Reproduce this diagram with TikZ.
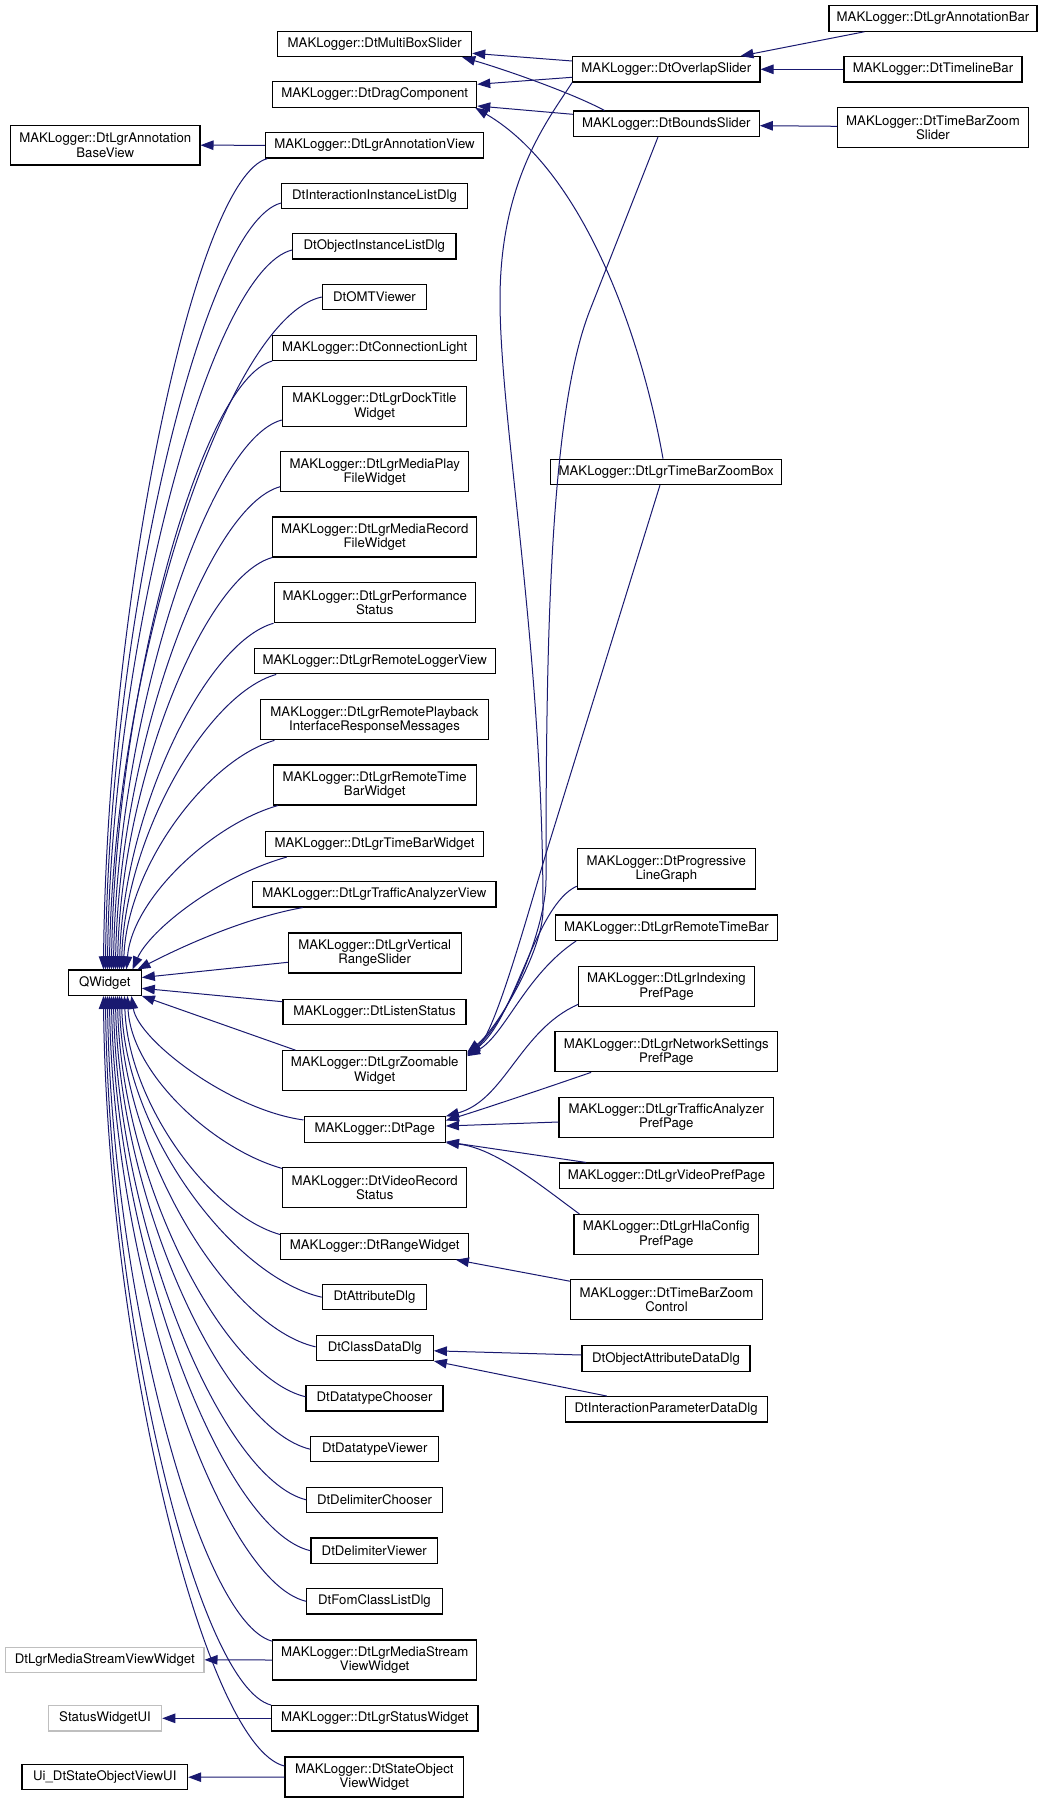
\documentclass[tikz,border=0pt]{standalone}
\usepackage{fontspec}
\setmainfont{TeX Gyre Heros}
\usetikzlibrary{arrows.meta,calc,backgrounds}
\definecolor{navy}{HTML}{191970}
\definecolor{boxgrey}{HTML}{BFBFBF}
\begin{document}
\begin{tikzpicture}[x=1pt,y=-1pt,
  box/.style={draw=black, line width=1.1pt, fill=white, inner sep=0pt, align=center,
    font=\fontsize{13.2}{14.3}\selectfont, minimum height=25.4pt},
  box2/.style={box, minimum height=40pt},
  gbox/.style={box, draw=boxgrey},
  inh/.style={draw=navy, line width=1pt, {Triangle[length=13pt,width=9.5pt]}-}]
\begin{pgfonlayer}{background}
\fill[white] (0,0) rectangle (1053,1803);
\end{pgfonlayer}
\useasboundingbox (0,0) rectangle (1053,1803);

% middle column
\node[box, minimum width=194pt] (mbs) at (374.7,44) {MAKLogger::DtMultiBoxSlider};
\node[box, minimum width=204pt] (drag) at (374.7,94.5) {MAKLogger::DtDragComponent};
\node[box2, minimum width=189.3pt, minimum height=39.7pt] (abv) at (105.3,145.2) {MAKLogger::DtLgrAnnotation\\BaseView};
\node[box, minimum width=218.4pt] (av) at (374.5,145.3) {MAKLogger::DtLgrAnnotationView};
\node[box, minimum width=185.6pt] (iild) at (374.5,195.8) {DtInteractionInstanceListDlg};
\node[box, minimum width=163.3pt] (oild) at (374.3,246.3) {DtObjectInstanceListDlg};
\node[box, minimum width=104.4pt] (omt) at (374.5,297) {DtOMTViewer};
\node[box, minimum width=204pt] (conn) at (374.7,347.8) {MAKLogger::DtConnectionLight};
\node[box2, minimum width=184.4pt] (dock) at (374.5,406.7) {MAKLogger::DtLgrDockTitle\\Widget};
\node[box2, minimum width=188pt] (mplay) at (374.7,471.8) {MAKLogger::DtLgrMediaPlay\\FileWidget};
\node[box2, minimum width=204pt] (mrec) at (374.7,537) {MAKLogger::DtLgrMediaRecord\\FileWidget};
\node[box2, minimum width=201.3pt] (perf) at (374.7,602.7) {MAKLogger::DtLgrPerformance\\Status};
\node[box, minimum width=241.3pt] (rlog) at (374.7,661.2) {MAKLogger::DtLgrRemoteLoggerView};
\node[box2, minimum width=227.6pt] (rplay) at (374.5,719.8) {MAKLogger::DtLgrRemotePlayback\\InterfaceResponseMessages};
\node[box2, minimum width=202.7pt] (rtbw) at (374.7,785) {MAKLogger::DtLgrRemoteTime\\BarWidget};
\node[box, minimum width=217.6pt] (tbw) at (374.5,843.8) {MAKLogger::DtLgrTimeBarWidget};
\node[box, minimum width=243.3pt] (tav) at (374.3,894.3) {MAKLogger::DtLgrTrafficAnalyzerView};
\node[box2, minimum width=172.7pt] (vrs) at (374.7,953) {MAKLogger::DtLgrVertical\\RangeSlider};
\node[box, minimum width=73pt] (qw) at (104.8,982.7) {QWidget};
\node[box, minimum width=183pt] (ls) at (374.5,1011.8) {MAKLogger::DtListenStatus};
\node[box2, minimum width=184pt] (zw) at (374.7,1070.7) {MAKLogger::DtLgrZoomable\\Widget};
\node[box, minimum width=141.3pt] (page) at (374.7,1129.5) {MAKLogger::DtPage};
\node[box2, minimum width=184pt] (vrec) at (374.7,1187.7) {MAKLogger::DtVideoRecord\\Status};
\node[box, minimum width=188pt] (rw) at (374.7,1246.5) {MAKLogger::DtRangeWidget};
\node[box, minimum width=104.4pt] (attr) at (374.5,1297.2) {DtAttributeDlg};
\node[box, minimum width=117.3pt] (cdd) at (374.7,1347.8) {DtClassDataDlg};
\node[box, minimum width=137pt] (dtc) at (374.5,1398.3) {DtDatatypeChooser};
\node[box, minimum width=128pt] (dtv) at (374.7,1449.2) {DtDatatypeViewer};
\node[box, minimum width=135.6pt] (dlc) at (374.5,1499.8) {DtDelimiterChooser};
\node[box, minimum width=126.7pt] (dlv) at (374.3,1550.7) {DtDelimiterViewer};
\node[box, minimum width=135.6pt] (fcl) at (374.5,1601.3) {DtFomClassListDlg};
\node[box2, minimum width=204pt] (msvw) at (374.7,1660) {MAKLogger::DtLgrMediaStream\\ViewWidget};
\node[gbox, minimum width=198.3pt, minimum height=25pt] (gmsvw) at (104.8,1659.8) {DtLgrMediaStreamViewWidget};
\node[gbox, minimum width=113.4pt] (swui) at (105,1718.3) {StatusWidgetUI};
\node[box, minimum width=206.3pt] (lsw) at (374.8,1718.3) {MAKLogger::DtLgrStatusWidget};
\node[box, minimum width=165.7pt, minimum height=25pt] (uiso) at (104.8,1777.2) {Ui\_DtStateObjectViewUI};
\node[box2, minimum width=178.7pt] (sovw) at (374.3,1777) {MAKLogger::DtStateObject\\ViewWidget};

% right column
\node[box, minimum width=208pt] (ab) at (933,18.5) {MAKLogger::DtLgrAnnotationBar};
\node[box, minimum width=187.3pt] (os) at (666.3,69.3) {MAKLogger::DtOverlapSlider};
\node[box, minimum width=178pt] (tlb) at (933,69.3) {MAKLogger::DtTimelineBar};
\node[box, minimum width=186pt] (bs) at (666.3,123.7) {MAKLogger::DtBoundsSlider};
\node[box2, minimum width=191.4pt] (tbzs) at (933,127.7) {MAKLogger::DtTimeBarZoom\\Slider};
\node[box, minimum width=231pt] (tbzb) at (666.2,471.8) {MAKLogger::DtLgrTimeBarZoomBox};
\node[box2, minimum width=178pt, minimum height=40.3pt] (plg) at (666.3,868.8) {MAKLogger::DtProgressive\\LineGraph};
\node[box, minimum width=221.6pt] (rtb) at (666.5,927.7) {MAKLogger::DtLgrRemoteTimeBar};
\node[box2, minimum width=175.6pt] (ipp) at (666.5,986.5) {MAKLogger::DtLgrIndexing\\PrefPage};
\node[box2, minimum width=222.7pt] (nspp) at (666.3,1051.8) {MAKLogger::DtLgrNetworkSettings\\PrefPage};
\node[box2, minimum width=214.7pt] (tapp) at (666.3,1117.2) {MAKLogger::DtLgrTrafficAnalyzer\\PrefPage};
\node[box, minimum width=213.6pt] (vpp) at (666.5,1175.7) {MAKLogger::DtLgrVideoPrefPage};
\node[box2, minimum width=184.7pt] (hpp) at (666.3,1234.5) {MAKLogger::DtLgrHlaConfig\\PrefPage};
\node[box2, minimum width=191.6pt] (tbzc) at (666.5,1299.8) {MAKLogger::DtTimeBarZoom\\Control};
\node[box, minimum width=168pt] (oadd) at (666,1358.5) {DtObjectAttributeDataDlg};
\node[box, minimum width=201.7pt] (ipdd) at (666.2,1409.3) {DtInteractionParameterDataDlg};

% QWidget, upper children
\draw[inh] ($(qw.north west)+(35.7,0)$) .. controls (107,604.6) and (194.2,178) .. ($(av.south west)+(2.7,0)$);
\draw[inh] ($(qw.north west)+(37.7,0)$) .. controls (109,624.9) and (202.6,223) .. ($(iild.west)+(0,7.2)$);
\draw[inh] ($(qw.north west)+(39.7,0)$) .. controls (111,646) and (209.6,270) .. ($(oild.west)+(0,3.7)$);
\draw[inh] ($(qw.north west)+(41.7,0)$) .. controls (113,667.2) and (226.8,317) .. (omt.west);
\draw[inh] ($(qw.north west)+(43.7,0)$) .. controls (115,695.8) and (200.4,380.7) .. (conn.south west);
\draw[inh] ($(qw.north west)+(45.7,0)$) .. controls (117,722.5) and (206.6,440) .. ($(dock.west)+(0,13.3)$);
\draw[inh] ($(qw.north west)+(47.7,0)$) .. controls (119,752.5) and (206.6,506.7) .. ($(mplay.west)+(0,14.9)$);
\draw[inh] ($(qw.north west)+(49.7,0)$) .. controls (121,784) and (203.1,576.7) .. (mrec.south west);
\draw[inh] ($(qw.north west)+(51.7,0)$) .. controls (123,813.7) and (204.7,642.7) .. (perf.south west);
\draw[inh] ($(qw.north west)+(53.7,0)$) .. controls (125,836.7) and (207.1,693.7) .. ($(rlog.south west)+(22.7,0)$);
\draw[inh] ($(qw.north west)+(55.7,0)$) .. controls (127,866.5) and (207,760) .. ($(rplay.south west)+(14.3,0)$);
\draw[inh] ($(qw.north west)+(58.7,0)$) .. controls (132,900) and (210.2,825) .. ($(rtbw.south west)+(5,0)$);
\draw[inh] ($(qw.north west)+(64.7,0)$) .. controls (150,930) and (217,876.7) .. ($(tbw.south west)+(21.6,0)$);
\draw[inh] ($(qw.north west)+(69.7,0)$) .. controls (185,945) and (245,918) .. ($(tav.south west)+(50.6,0)$);
% QWidget, right side
\draw[inh] ($(qw.east)+(0,-5.2)$) -- ($(vrs.west)+(0,9.3)$);
\draw[inh] ($(qw.east)+(0,5.6)$) -- ($(ls.west)+(0,-10.1)$);
\draw[inh] (qw.south east) -- ($(zw.north west)+(13.3,0)$);
% QWidget, lower children
\draw[inh] ($(qw.south west)+(63.7,0)$) .. controls (138,1040) and (230,1110) .. ($(page.north west)+(0,3.7)$);
\draw[inh] ($(qw.south west)+(59.7,0)$) .. controls (131,1073.5) and (213.1,1149) .. ($(vrec.north west)+(0,1.3)$);
\draw[inh] ($(qw.south west)+(56.7,0)$) .. controls (128,1103.2) and (210.6,1215) .. ($(rw.north west)+(0,1.3)$);
\draw[inh] ($(qw.south west)+(53.7,0)$) .. controls (125,1131) and (232.2,1276.7) .. (attr.west);
\draw[inh] ($(qw.south west)+(51.7,0)$) .. controls (123,1153.4) and (227.8,1326.7) .. ($(cdd.west)+(0,-1)$);
\draw[inh] ($(qw.south west)+(49.7,0)$) .. controls (121,1175.9) and (221.4,1376.7) .. ($(dtc.west)+(0,-1.6)$);
\draw[inh] ($(qw.south west)+(47.7,0)$) .. controls (119,1199.2) and (223.1,1428.3) .. (dtv.west);
\draw[inh] ($(qw.south west)+(45.7,0)$) .. controls (117,1221.7) and (220,1478.3) .. (dlc.west);
\draw[inh] ($(qw.south west)+(43.7,0)$) .. controls (115,1244.9) and (221.5,1530) .. (dlv.west);
\draw[inh] ($(qw.south west)+(41.7,0)$) .. controls (113,1267.7) and (218.2,1580.7) .. (fcl.west);
\draw[inh] ($(qw.south west)+(39.7,0)$) .. controls (111,1286.2) and (198.6,1621.7) .. ($(msvw.north west)+(0,1.7)$);
\draw[inh] ($(qw.south west)+(37.7,0)$) .. controls (109,1315.1) and (197.1,1686) .. (lsw.north west);
\draw[inh] ($(qw.south west)+(35.7,0)$) .. controls (107,1342.1) and (203.5,1746) .. ($(sovw.west)+(0,-11)$);

% left parents
\draw[inh] (abv.east) -- (av.west);
\draw[inh] (gmsvw.east) -- (msvw.west);
\draw[inh] (swui.east) -- (lsw.west);
\draw[inh] (uiso.east) -- (sovw.west);

% top right
\draw[inh] ($(mbs.east)+(0,9.3)$) -- ($(os.west)+(0,-8.3)$);
\draw[inh] ($(mbs.south east)+(-10,0)$) .. controls (500,68) and (570,92) .. ($(bs.north west)+(31.7,0)$);
\draw[inh] ($(drag.east)+(0,-10.2)$) -- ($(os.west)+(0,8)$);
\draw[inh] ($(drag.east)+(0,11.5)$) -- ($(bs.west)+(0,-9.4)$);
\draw[inh] ($(drag.south east)+(-2,0)$) .. controls (585,172) and (642,340) .. ($(tbzb.north)+(-3.2,0)$);
\draw[inh] ($(os.north east)+(-20,0)$) -- ($(ab.south west)+(36,0)$);
\draw[inh] (os.east) -- (tlb.west);
\draw[inh] ($(bs.east)+(0,2)$) -- ($(tbzs.west)+(0,-1.4)$);

% DtLgrZoomableWidget children
\draw[inh] ($(zw.north east)+(0,2)$) .. controls (498,1028) and (543,950) .. (543,910)
   .. controls (543,650) and (500,420) .. (500,300)
   .. controls (500,180) and (548,120) .. (os.south west);
\draw[inh] ($(zw.north east)+(0,3)$) .. controls (505,1025) and (546,930) .. (546,880)
   .. controls (546,650) and (549,414) .. (590,310) -- ($(bs.south)+(-8.3,0)$);
\draw[inh] ($(zw.north east)+(0,4)$) .. controls (495,1035) and (530.3,904.3) .. (548,847)
   -- ($(tbzb.south)+(-6.2,0)$);
\draw[inh] ($(zw.north east)+(0,5)$) .. controls (515,1020) and (535,905) .. ($(plg.south west)+(0,-3.3)$);
\draw[inh] ($(zw.north east)+(0,6)$) .. controls (505,1035) and (525,975) .. ($(rtb.south west)+(21,0)$);

% DtPage children
\draw[inh] (page.north east) .. controls (505,1100) and (520,1030) .. ($(ipp.south west)+(0,-2.7)$);
\draw[inh] ($(page.east)+(0,-9)$) .. controls (480,1110) and (540,1090) .. ($(nspp.south west)+(36.7,0)$);
\draw[inh] ($(page.east)+(0,-3.5)$) -- ($(tapp.west)+(0,4.8)$);
\draw[inh] ($(page.south east)+(0,-1)$) -- ($(vpp.north west)+(27,0)$);
\draw[inh] (page.south east) .. controls (495,1148) and (540,1185) .. ($(hpp.north west)+(6,0)$);

% others
\draw[inh] ($(rw.south east)+(-13.4,0)$) -- ($(tbzc.north west)+(0,2)$);
\draw[inh] ($(cdd.east)+(0,3)$) -- ($(oadd.west)+(0,-3.5)$);
\draw[inh] (cdd.south east) -- ($(ipdd.north west)+(42,0)$);
\end{tikzpicture}
\end{document}
